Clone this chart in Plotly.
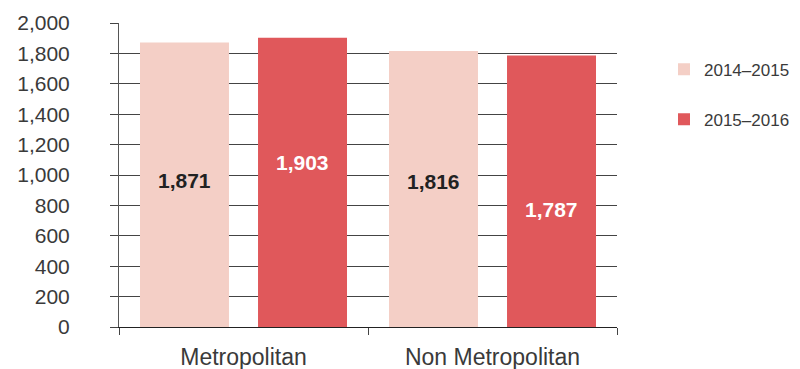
import plotly.graph_objects as go

categories = ["Metropolitan", "Non Metropolitan"]
series_names = ["2014–2015", "2015–2016"]
values_2014 = [1871, 1816]
values_2015 = [1903, 1787]
tick_vals = [0, 200, 400, 600, 800, 1000, 1200, 1400, 1600, 1800, 2000]
tick_text = ["0", "200", "400", "600", "800", "1,000", "1,200", "1,400", "1,600", "1,800", "2,000"]

colors = ["#F4CFC6", "#E0585B"]
label_colors = ["#222222", "#FFFFFF"]
# vertical placement of value labels (data units)
label_y = [[967, 954], [1079, 770]]

FONT = "Liberation Sans, Arial, sans-serif"

fig = go.Figure()
for i, (name, vals) in enumerate(zip(series_names, [values_2014, values_2015])):
    fig.add_trace(go.Bar(
        x=categories, y=vals, name=name, marker_color=colors[i],
        marker_line_width=0, legendgroup=name, offsetgroup=str(i),
    ))

for i, vals in enumerate([values_2014, values_2015]):
    for j, v in enumerate(vals):
        fig.add_annotation(
            x=categories[j], y=label_y[i][j], xref="x", yref="y",
            text=f"<b>{v:,}</b>", showarrow=False,
            xshift=(-59 if i == 0 else 59),
            font=dict(family=FONT, size=21, color=label_colors[i]),
        )

fig.update_layout(
    width=800, height=369,
    margin=dict(l=119, r=183, t=23, b=42, autoexpand=False),
    paper_bgcolor="white", plot_bgcolor="white",
    barmode="group", bargap=0.052, bargroupgap=0.246,
    font=dict(family=FONT, color="#3a3a3a"),
    legend=dict(
        xref="container", yref="container",
        x=0.83, y=0.86, xanchor="left", yanchor="top",
        font=dict(size=17, color="#3a3a3a"), tracegroupgap=25,
        itemwidth=30, bgcolor="rgba(0,0,0,0)",
    ),
    showlegend=True,
)
fig.update_yaxes(
    range=[0, 2000], tickvals=tick_vals, ticktext=tick_text,
    showgrid=True, gridcolor="#444444", gridwidth=1,
    showline=True, linecolor="#555555", linewidth=1,
    ticks="outside", ticklen=8, tickcolor="#444444",
    ticklabelstandoff=36, tickfont=dict(size=21, color="#3a3a3a"),
    zeroline=False,
)
fig.update_xaxes(
    showline=True, linecolor="#222222", linewidth=1,
    ticks="outside", tickson="boundaries", ticklen=7, tickcolor="#444444",
    ticklabelstandoff=9,
    tickfont=dict(size=23, color="#3a3a3a"),
)

fig.write_html("out.html")
